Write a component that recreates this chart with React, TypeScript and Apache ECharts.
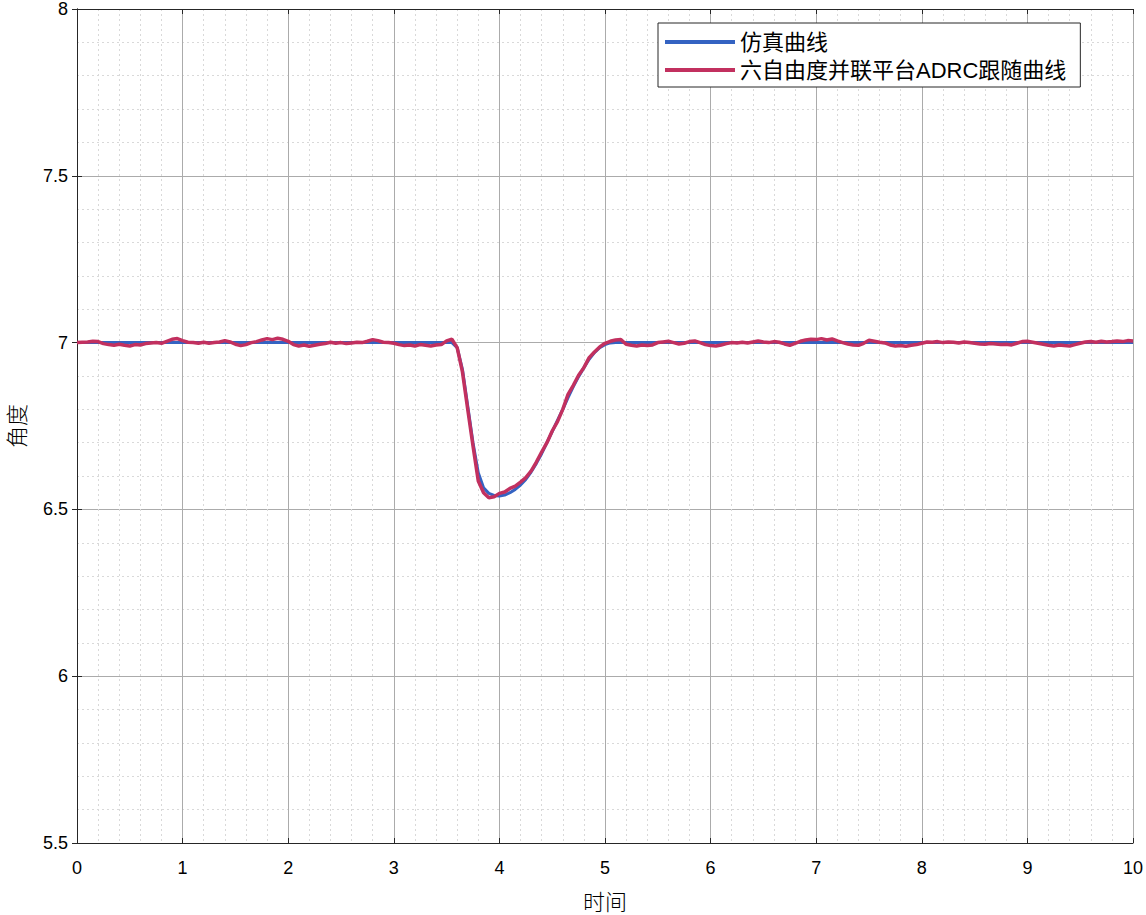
import React, { useEffect, useRef } from "react";
import * as echarts from "echarts";

const seriesNames = ["仿真曲线", "六自由度并联平台ADRC跟随曲线"];
const xAxisName = "时间";
const yAxisName = "角度";

// simulation curve (time, value)
const simTime = [0, 3.55, 3.6, 3.65, 3.7, 3.75, 3.8, 3.85, 3.9, 3.95, 4.0, 4.05, 4.1, 4.15, 4.2, 4.25, 4.3, 4.35, 4.4, 4.45, 4.5, 4.55, 4.6, 4.65, 4.7, 4.75, 4.8, 4.85, 4.9, 4.95, 5.0, 5.05, 5.1, 10];
const simValue = [7, 7, 6.985, 6.92, 6.81, 6.7, 6.61, 6.565, 6.548, 6.542, 6.54, 6.543, 6.55, 6.56, 6.573, 6.59, 6.612, 6.638, 6.667, 6.7, 6.733, 6.767, 6.8, 6.835, 6.868, 6.898, 6.925, 6.95, 6.97, 6.985, 6.994, 6.999, 7.0, 7.0];

// ADRC tracking curve, sampled every 0.05 from 0 to 10
const trackStep = 0.05;
const trackValue = [
  7.000, 7.001, 7.002, 7.004, 7.003, 6.997, 6.994, 6.992, 6.995, 6.992, 6.990, 6.994, 6.993, 6.997, 6.999, 7.000, 6.998, 7.004, 7.010, 7.012,
  7.006, 7.001, 7.000, 6.998, 7.001, 6.998, 7.000, 7.002, 7.006, 7.002, 6.995, 6.991, 6.994, 7.000, 7.003, 7.008, 7.012, 7.009, 7.013, 7.010,
  7.004, 6.994, 6.990, 6.993, 6.989, 6.992, 6.995, 6.997, 7.001, 6.998, 7.000, 6.997, 6.999, 7.001, 7.000, 7.004, 7.009, 7.006, 7.001, 7.000,
  6.998, 6.994, 6.991, 6.993, 6.990, 6.994, 6.992, 6.990, 6.993, 6.994, 7.005, 7.010, 6.985, 6.912, 6.800, 6.690, 6.585, 6.550, 6.535, 6.538,
  6.548, 6.552, 6.563, 6.570, 6.582, 6.595, 6.615, 6.642, 6.672, 6.700, 6.735, 6.763, 6.800, 6.845, 6.872, 6.902, 6.925, 6.955, 6.972, 6.987,
  6.998, 7.004, 7.008, 7.009, 6.995, 6.992, 6.990, 6.993, 6.991, 6.993, 7.000, 7.002, 7.004, 7.000, 6.996, 6.998, 7.003, 7.005, 7.000, 6.994,
  6.991, 6.990, 6.993, 6.997, 7.000, 6.999, 7.001, 6.999, 7.002, 7.005, 7.002, 7.000, 7.003, 7.001, 6.996, 6.992, 6.998, 7.004, 7.008, 7.010,
  7.009, 7.012, 7.008, 7.011, 7.005, 7.000, 6.996, 6.993, 6.992, 6.998, 7.007, 7.004, 7.001, 6.999, 6.993, 6.990, 6.991, 6.989, 6.992, 6.994,
  6.998, 7.002, 7.001, 7.003, 7.000, 7.002, 7.001, 6.999, 7.002, 7.000, 6.998, 6.996, 6.995, 6.997, 6.996, 6.994, 6.995, 6.993, 6.998, 7.003,
  7.004, 7.001, 6.998, 6.995, 6.992, 6.990, 6.993, 6.991, 6.990, 6.994, 6.998, 7.002, 7.003, 7.001, 7.004, 7.002, 7.003, 7.005, 7.003, 7.006,
  7.005,
];

const xMin = 0, xMax = 10, xInterval = 1;
const yMin = 5.5, yMax = 8, yInterval = 0.5;

const latin = "'Liberation Sans', Arial, 'Noto Sans CJK SC', sans-serif";
const cjk = "'Liberation Sans', 'Noto Sans CJK SC', sans-serif";

export default function App() {
  const ref = useRef<HTMLDivElement>(null);
  useEffect(() => {
    if (!ref.current) return;
    const chart = echarts.init(ref.current, null, { renderer: "svg" });
    const simData = simTime.map((t, i) => [t, simValue[i]]);
    const trackData = trackValue.map((v, i) => [+(i * trackStep).toFixed(2), v]);
    const axisLine = { show: true, lineStyle: { color: "#262626", width: 1 } };
    const tick = { show: true, inside: true, length: 5, lineStyle: { color: "#262626" } };
    const nameStyle = { fontSize: 22, lineHeight: 22, color: "#000", fontFamily: "'Noto Sans CJK SC', sans-serif", fontWeight: 300 };
    chart.setOption({
      animation: false,
      backgroundColor: "#fff",
      grid: { left: 77, right: 13, top: 9, bottom: 72, containLabel: false, outerBoundsMode: "none" },
      legend: {
        orient: "vertical",
        left: 658,
        top: 23,
        padding: [8, 14, 6, 7],
        itemGap: 6,
        itemWidth: 70,
        itemHeight: 4,
        icon: "rect",
        backgroundColor: "#fff",
        borderColor: "#262626",
        borderWidth: 1,
        borderRadius: 0,
        textStyle: { fontSize: 22, color: "#000", fontFamily: cjk, lineHeight: 22 },
        data: seriesNames,
      },
      xAxis: [
        {
          type: "value",
          min: xMin,
          max: xMax,
          interval: xInterval,
          name: xAxisName,
          nameLocation: "middle",
          nameGap: 46,
          nameTextStyle: nameStyle,
          axisLine,
          axisTick: tick,
          axisLabel: { fontSize: 18, color: "#000", fontFamily: latin, margin: 16 },
          splitLine: { show: true, lineStyle: { color: "#ababab", width: 1 } },
          minorTick: { show: false, splitNumber: 5 },
          minorSplitLine: { show: true, lineStyle: { color: "#d9d9d9", width: 1, type: [2, 3] } },
        },
        {
          type: "value",
          position: "top",
          min: xMin,
          max: xMax,
          interval: xInterval,
          axisLine,
          axisTick: tick,
          axisLabel: { show: false },
          splitLine: { show: false },
        },
      ],
      yAxis: [
        {
          type: "value",
          min: yMin,
          max: yMax,
          interval: yInterval,
          name: yAxisName,
          nameLocation: "middle",
          nameGap: 51,
          nameTextStyle: nameStyle,
          axisLine,
          axisTick: tick,
          axisLabel: { fontSize: 18, color: "#000", fontFamily: latin, margin: 9 },
          splitLine: { show: true, lineStyle: { color: "#ababab", width: 1 } },
          minorTick: { show: false, splitNumber: 5 },
          minorSplitLine: { show: true, lineStyle: { color: "#d9d9d9", width: 1, type: [2, 3] } },
        },
        {
          type: "value",
          position: "right",
          min: yMin,
          max: yMax,
          interval: yInterval,
          axisLine,
          axisTick: tick,
          axisLabel: { show: false },
          splitLine: { show: false },
        },
      ],
      series: [
        {
          name: seriesNames[0],
          type: "line",
          data: simData,
          showSymbol: false,
          symbol: "none",
          lineStyle: { color: "#3463c2", width: 3 },
          itemStyle: { color: "#3463c2" },
          z: 2,
        },
        {
          name: seriesNames[1],
          type: "line",
          data: trackData,
          showSymbol: false,
          symbol: "none",
          lineStyle: { color: "#c2305f", width: 3.5 },
          itemStyle: { color: "#c2305f" },
          z: 3,
        },
      ],
    });
    return () => chart.dispose();
  }, []);
  return (
    <div
      ref={ref}
      style={{ position: "absolute", left: 0, top: 0, width: 1146, height: 915 }}
    />
  );
}
